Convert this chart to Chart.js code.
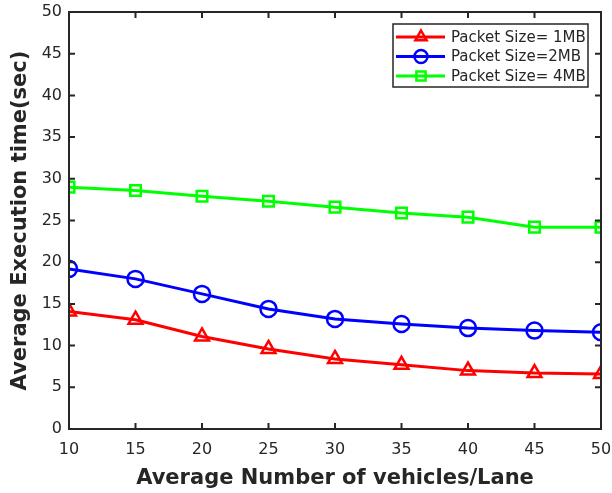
<!DOCTYPE html>
<html>
<head>
<meta charset="utf-8">
<script src="https://cdn.jsdelivr.net/npm/chart.js@4.4.1/dist/chart.umd.min.js"></script>
<style>
  html, body { margin: 0; padding: 0; background: #ffffff; }
  #wrap { width: 612px; height: 493px; }
</style>
</head>
<body>
<div id="wrap"><canvas id="c" width="612" height="493"></canvas></div>
<script>
// Vehicles per lane (x) and mean execution time (seconds) per packet size
const vehicles = [10, 15, 20, 25, 30, 35, 40, 45, 50];
const time1MB = [14.1, 13.1, 11.1, 9.6, 8.4, 7.7, 7.0, 6.7, 6.6];
const time2MB = [19.2, 18.0, 16.2, 14.4, 13.2, 12.6, 12.1, 11.8, 11.6];
const time4MB = [29.0, 28.6, 27.9, 27.3, 26.6, 25.9, 25.4, 24.2, 24.2];
const seriesLabels = ['Packet Size= 1MB', 'Packet Size=2MB', 'Packet Size= 4MB'];
const yTicks = [0, 5, 10, 15, 20, 25, 30, 35, 40, 45, 50];
const xTitle = 'Average Number of vehicles/Lane';
const yTitle = 'Average Execution time(sec)';

const FONT = "'DejaVu Sans', sans-serif";
const INK = '#262626';
const toXY = arr => arr.map((v, i) => ({ x: vehicles[i], y: v }));

// Boxed axes with inward ticks on all four sides, axis titles, and legend inside the plot
const framePlugin = {
  id: 'frame',
  afterDatasetsDraw(chart) {
    const { ctx, chartArea: a, scales } = chart;
    const L = 6;
    ctx.save();
    ctx.strokeStyle = INK;
    ctx.lineWidth = 2;
    ctx.strokeRect(a.left, a.top, a.right - a.left, a.bottom - a.top);
    ctx.beginPath();
    vehicles.forEach(v => {
      const px = scales.x.getPixelForValue(v);
      ctx.moveTo(px, a.bottom); ctx.lineTo(px, a.bottom - L);
      ctx.moveTo(px, a.top); ctx.lineTo(px, a.top + L);
    });
    yTicks.forEach(v => {
      const py = scales.y.getPixelForValue(v);
      ctx.moveTo(a.left, py); ctx.lineTo(a.left + L, py);
      ctx.moveTo(a.right, py); ctx.lineTo(a.right - L, py);
    });
    ctx.stroke();

    // axis titles
    ctx.fillStyle = INK;
    ctx.font = 'bold 21px ' + FONT;
    ctx.textAlign = 'center';
    ctx.textBaseline = 'alphabetic';
    ctx.fillText(xTitle, (a.left + a.right) / 2, 484);
    ctx.save();
    ctx.translate(26, (a.top + a.bottom) / 2);
    ctx.rotate(-Math.PI / 2);
    ctx.fillText(yTitle, 0, 0);
    ctx.restore();

    // legend
    const bx = 393, by = 24, bw = 195, bh = 63;
    ctx.fillStyle = '#ffffff';
    ctx.fillRect(bx, by, bw, bh);
    ctx.lineWidth = 1.5;
    ctx.strokeStyle = INK;
    ctx.strokeRect(bx, by, bw, bh);
    ctx.font = '15px ' + FONT;
    ctx.textAlign = 'left';
    ctx.textBaseline = 'middle';
    chart.data.datasets.forEach((ds, i) => {
      const cy = by + 13 + i * 19.5;
      ctx.strokeStyle = ds.borderColor;
      ctx.lineWidth = 3;
      ctx.beginPath();
      ctx.moveTo(bx + 3, cy); ctx.lineTo(bx + 52, cy);
      ctx.stroke();
      ctx.fillStyle = 'rgba(0,0,0,0)';
      ctx.lineWidth = 2.5;
      Chart.helpers.drawPoint(ctx, {
        pointStyle: ds.pointStyle, radius: 6.5, rotation: 0, borderWidth: 2.5
      }, bx + 28, cy);
      ctx.fillStyle = INK;
      ctx.fillText(ds.label, bx + 58, cy + 1);
    });
    ctx.restore();
  }
};

const mkSet = (label, data, color, style, r) => ({
  label,
  data: toXY(data),
  borderColor: color,
  backgroundColor: 'rgba(0,0,0,0)',
  pointBorderColor: color,
  pointBackgroundColor: 'rgba(0,0,0,0)',
  pointStyle: style,
  pointRadius: r,
  pointBorderWidth: 2.5,
  borderWidth: 3,
  tension: 0
});

new Chart(document.getElementById('c'), {
  type: 'line',
  data: {
    datasets: [
      mkSet(seriesLabels[0], time1MB, '#ff0000', 'triangle', 8),
      mkSet(seriesLabels[1], time2MB, '#0000ff', 'circle', 8),
      mkSet(seriesLabels[2], time4MB, '#00ff00', 'rect', 7.5)
    ]
  },
  options: {
    responsive: false,
    animation: false,
    layout: { padding: { top: 12, right: 11, left: 0, bottom: 0 } },
    plugins: { legend: { display: false }, tooltip: { enabled: false } },
    scales: {
      x: {
        type: 'linear', min: 10, max: 50,
        afterFit: s => {
          s.height = 64;
          s.paddingLeft = 0; s.paddingRight = 0;
        },
        afterBuildTicks: s => { s.ticks = vehicles.map(v => ({ value: v })); },
        grid: { display: false, tickLength: 0 },
        border: { display: false },
        ticks: {
          color: INK, padding: 11,
          font: { family: FONT, size: 16 }
        }
      },
      y: {
        min: 0, max: 50,
        afterFit: s => {
          s.width = 69;
          s.paddingTop = 0; s.paddingBottom = 0;
        },
        afterBuildTicks: s => { s.ticks = yTicks.map(v => ({ value: v })); },
        grid: { display: false, tickLength: 0 },
        border: { display: false },
        ticks: {
          color: INK, padding: 7,
          font: { family: FONT, size: 16 }
        }
      }
    }
  },
  plugins: [framePlugin]
});
</script>
</body>
</html>
